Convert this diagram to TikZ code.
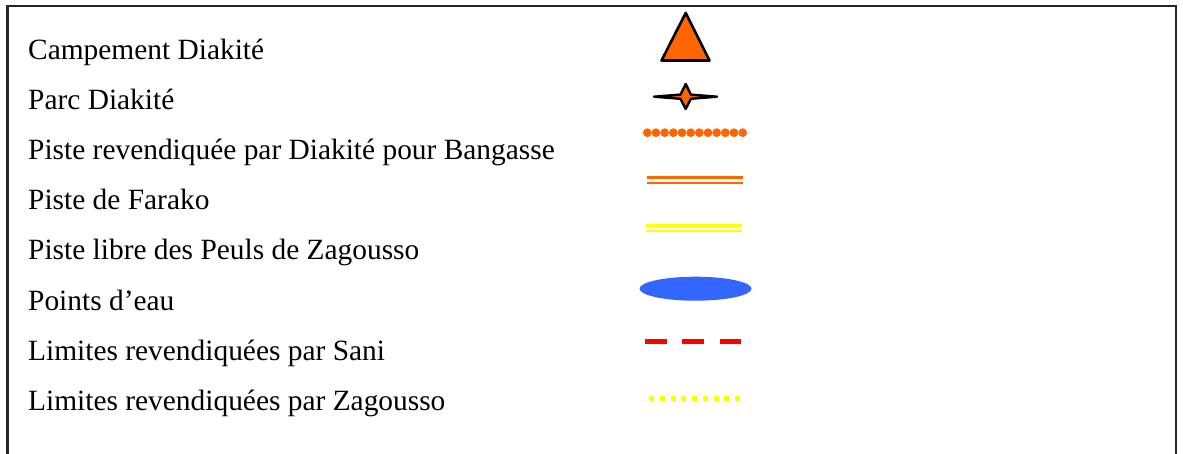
\documentclass[tikz,border=0pt]{standalone}
\usepackage{fontspec}
\setmainfont{Liberation Serif}
\definecolor{campcol}{HTML}{FF6600}
\definecolor{eaucol}{HTML}{3366FF}
\definecolor{jaunecol}{HTML}{FFFF00}
\definecolor{rougecol}{HTML}{FF0000}
\begin{document}
\begin{tikzpicture}[x=1pt,y=-1pt,
  legendtext/.style={anchor=base west, inner sep=0pt, font=\fontsize{29.4}{35}\selectfont},
  frameline/.style={line width=2.2pt, black!85},
  doubletrack/.style={line width=2.7pt}]
\useasboundingbox (0,0) rectangle (1183,454);
% open frame round the legend
\draw[frameline] (7.5,454) -- (7.5,6) -- (1176,6) -- (1176,454);

% legend entries
\node[legendtext] (t1) at (28,59.5)  {Campement Diakité};
\node[legendtext] (t2) at (28,109.6) {Parc Diakité};
\node[legendtext] (t3) at (28,159.7) {Piste revendiquée par Diakité pour Bangasse};
\node[legendtext] (t4) at (28,209.8) {Piste de Farako};
\node[legendtext] (t5) at (28,259.9) {Piste libre des Peuls de Zagousso};
\node[legendtext] (t6) at (28,310)   {Points d’eau};
\node[legendtext] (t7) at (28,360.1) {Limites revendiquées par Sani};
\node[legendtext] (t8) at (28,410.2) {Limites revendiquées par Zagousso};

% campement: orange triangle
\filldraw[fill=campcol, draw=black, line width=2.6pt, line join=round]
  (685.7,13) -- (709.5,60.5) -- (661.5,60.5) -- cycle;

% parc: four-pointed star with long horizontal arms
\filldraw[fill=campcol, draw=black, line width=2.4pt, line join=round]
  (654,96.7) -- (680.5,94.6) -- (685.7,84) -- (690.9,94.6) -- (717,96.7)
  -- (690.9,98.8) -- (685.7,109) -- (680.5,98.8) -- cycle;

% dotted track
\foreach \i in {0,...,11}
  \fill[campcol] (647.3+\i*8.67,132.7) circle (4.4);

% Farako track
\draw[campcol, doubletrack] (647.3,177.7) -- (743.3,177.7);
\draw[campcol, doubletrack] (647.3,183) -- (743.3,183);

% free track
\draw[jaunecol, doubletrack] (645.7,225.7) -- (741.7,225.7);
\draw[jaunecol, doubletrack] (645.7,231) -- (741.7,231);

% water point
\fill[eaucol] (695.5,288.7) ellipse [x radius=56, y radius=12];

% claimed limits
\draw[rougecol, line width=4.7pt, dash pattern=on 21.7pt off 15.7pt] (645,341.3) -- (741.3,341.3);
\draw[jaunecol, line width=5pt, dash pattern=on 5pt off 5.7pt] (649.3,398.7) -- (740.5,398.7);
\end{tikzpicture}
\end{document}
